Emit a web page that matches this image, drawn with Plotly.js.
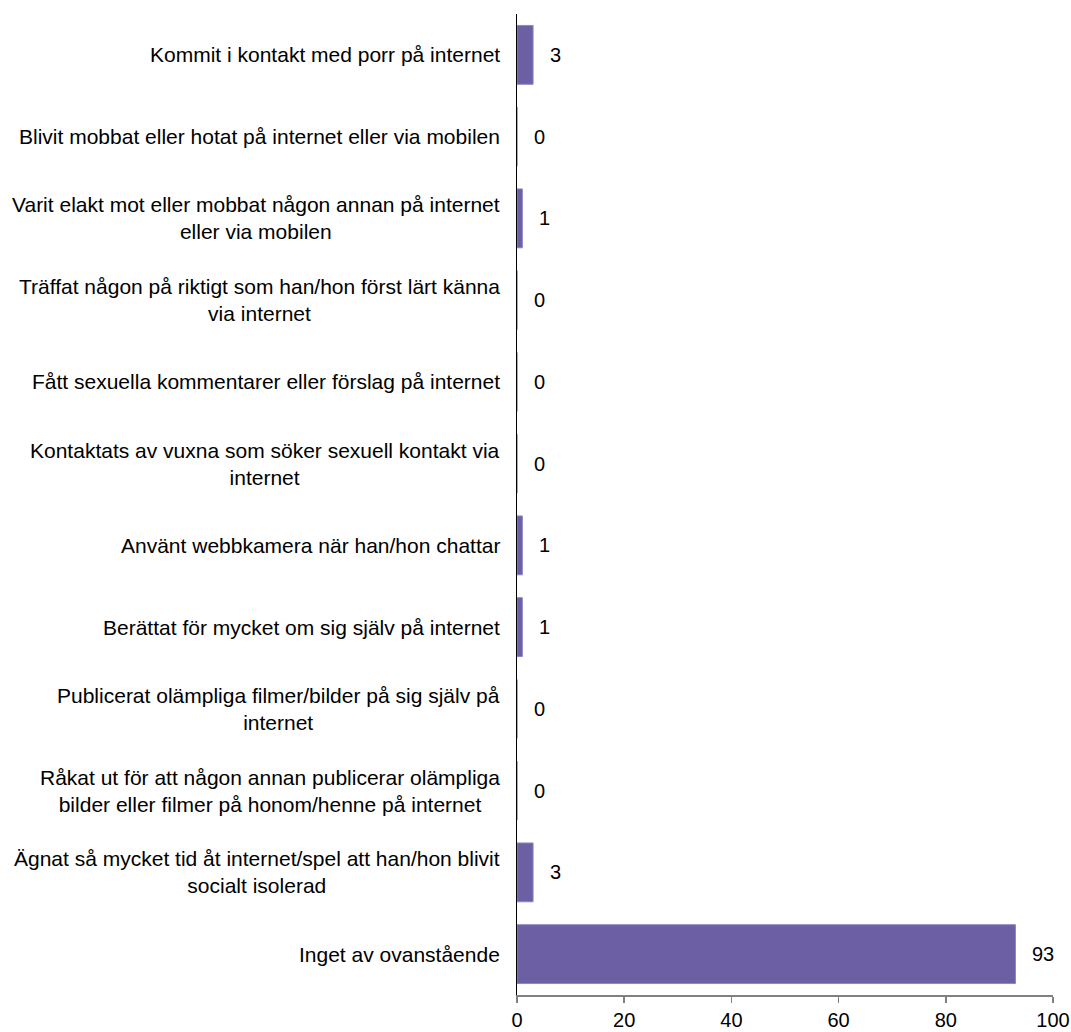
<!DOCTYPE html>
<html>
<head>
<meta charset="utf-8">
<script src="https://cdn.plot.ly/plotly-3.0.1.min.js"></script>
<style>html,body{margin:0;padding:0;background:#fff;}#chart{width:1071px;height:1032px;}</style>
</head>
<body>
<div id="chart"></div>
<script>
const categories = [
  "Kommit i kontakt med porr på internet",
  "Blivit mobbat eller hotat på internet eller via mobilen",
  "Varit elakt mot eller mobbat någon annan på internet<br>eller via mobilen",
  "Träffat någon på riktigt som han/hon först lärt känna<br>via internet",
  "Fått sexuella kommentarer eller förslag på internet",
  "Kontaktats av vuxna som söker sexuell kontakt via<br>internet",
  "Använt webbkamera när han/hon chattar",
  "Berättat för mycket om sig själv på internet",
  "Publicerat olämpliga filmer/bilder på sig själv på<br>internet",
  "Råkat ut för att någon annan publicerar olämpliga<br>bilder eller filmer på honom/henne på internet",
  "Ägnat så mycket tid åt internet/spel att han/hon blivit<br>socialt isolerad",
  "Inget av ovanstående"
];
const values = [3, 0, 1, 0, 0, 0, 1, 1, 0, 0, 3, 93];
const xTicks = [0, 20, 40, 60, 80, 100];

const FONT = "Arial, 'Liberation Sans', sans-serif";
const barColor = "#6C5FA4";

const trace = {
  type: "bar",
  orientation: "h",
  x: values,
  y: categories,
  width: 0.72,
  marker: {color: barColor, line: {color: "#8F86C2", width: 1}},
  hoverinfo: "x+y"
};

const annotations = [];
categories.forEach((c, i) => {
  annotations.push({
    xref: "paper", yref: "y", x: 0, y: c,
    xanchor: "right", yanchor: "middle", xshift: -15,
    text: c, showarrow: false, align: "center",
    font: {family: FONT, size: 21, color: "#000"}
  });
  annotations.push({
    xref: "x", yref: "y", x: values[i], y: c,
    xanchor: "left", yanchor: "middle", xshift: 15,
    text: String(values[i]), showarrow: false,
    font: {family: FONT, size: 20, color: "#000"}
  });
});

const layout = {
  width: 1071, height: 1032,
  margin: {l: 517, r: 18, t: 13.5, b: 37},
  paper_bgcolor: "#fff", plot_bgcolor: "#fff",
  showlegend: false,
  font: {family: FONT, size: 20, color: "#000"},
  xaxis: {
    range: [0, 100], tickvals: xTicks, ticktext: xTicks.map(String),
    showgrid: false, zeroline: false,
    showline: true, linecolor: "#808080", linewidth: 1.5,
    ticks: "outside", ticklen: 6, tickcolor: "#808080", tickwidth: 1.5,
    tickfont: {family: FONT, size: 20, color: "#000"}, fixedrange: true
  },
  yaxis: {
    type: "category", categoryorder: "array", categoryarray: categories,
    autorange: false, range: [11.5, -0.5],
    showticklabels: false, ticks: "", showgrid: false, zeroline: false,
    showline: true, linecolor: "#000", linewidth: 1.5, fixedrange: true
  },
  annotations: annotations
};

Plotly.newPlot("chart", [trace], layout, {displayModeBar: false, staticPlot: true});
</script>
</body>
</html>
